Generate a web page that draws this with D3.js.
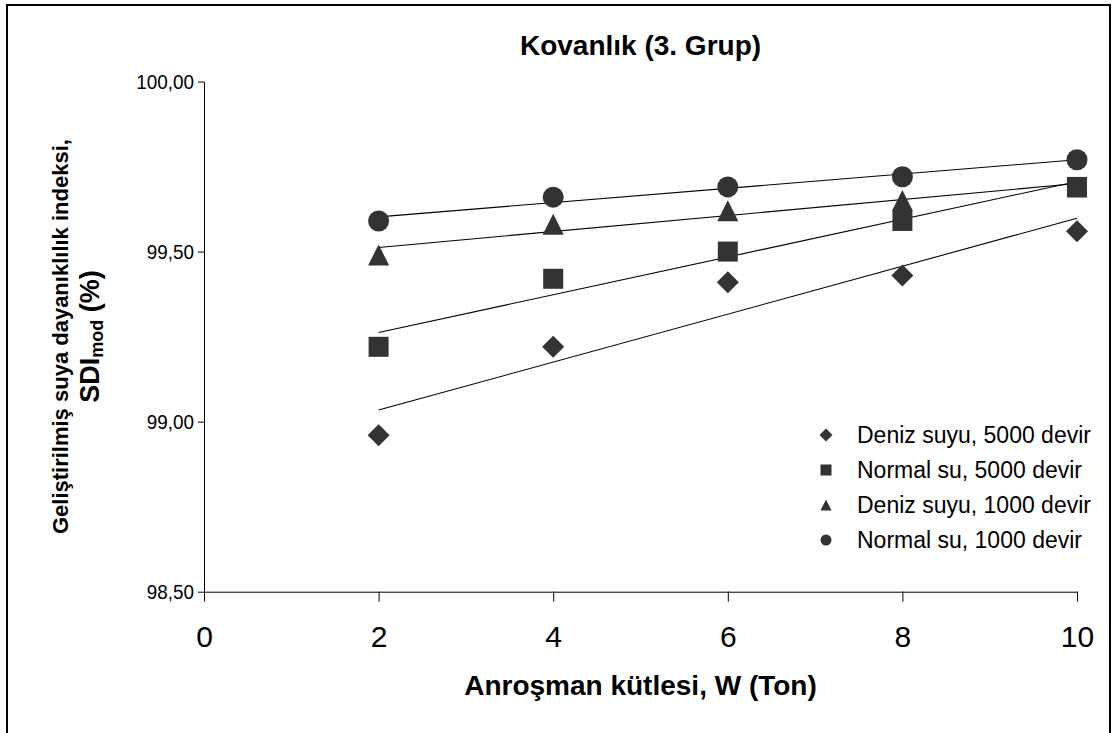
<!DOCTYPE html>
<html>
<head>
<meta charset="utf-8">
<script src="https://cdn.jsdelivr.net/npm/d3@7"></script>
<style>
  html, body { margin: 0; padding: 0; background: #fff; }
  svg { display: block; font-family: "Liberation Sans", Arial, sans-serif; }
</style>
</head>
<body>
<svg id="chart" width="1117" height="733"></svg>
<script>
// Anroşman kütlesi (ton)
const masses = [2, 4, 6, 8, 10];

// SDI_mod (%) for each test condition
const denizSuyu5000 = [98.96, 99.22, 99.41, 99.43, 99.56];
const normalSu5000  = [99.22, 99.42, 99.50, 99.59, 99.69];
const denizSuyu1000 = [99.49, 99.58, 99.62, 99.65, 99.69];
const normalSu1000  = [99.59, 99.66, 99.69, 99.72, 99.77];

const seriesNames = [
  "Deniz suyu, 5000 devir",
  "Normal su, 5000 devir",
  "Deniz suyu, 1000 devir",
  "Normal su, 1000 devir"
];
const seriesShapes = ["diamond", "square", "triangle", "circle"];

const xTicks = [0, 2, 4, 6, 8, 10];
const yTicks = [98.5, 99.0, 99.5, 100.0];

const series = [denizSuyu5000, normalSu5000, denizSuyu1000, normalSu1000].map((vals, i) => ({
  name: seriesNames[i],
  shape: seriesShapes[i],
  points: masses.map((m, j) => ({ x: m, y: vals[j] }))
}));

const svg = d3.select("#chart");
const markColor = "#333333";
const font = "Liberation Sans, Arial, sans-serif";

// outer frame
svg.append("rect")
  .attr("x", 7).attr("y", 5)
  .attr("width", 1103).attr("height", 760)
  .attr("fill", "none").attr("stroke", "#000").attr("stroke-width", 2);

const plot = { left: 204, right: 1077, top: 81.5, bottom: 591.7 };

const x = d3.scaleLinear().domain([0, 10]).range([plot.left, plot.right]);
const y = d3.scaleLinear().domain([98.5, 100]).range([plot.bottom, plot.top]);

const trLocale = d3.formatLocale({ decimal: ",", thousands: ".", grouping: [3], currency: ["", " TL"] });
const fmtY = trLocale.format(".2f");

// y axis
const yAxis = svg.append("g")
  .attr("transform", `translate(${plot.left},0)`)
  .call(d3.axisLeft(y).tickValues(yTicks).tickFormat(fmtY).tickSizeInner(6).tickSizeOuter(0).tickPadding(4));
yAxis.selectAll("text")
  .attr("font-size", 21).attr("fill", "#000").attr("font-family", font)
  .attr("x", 0).attr("transform", "translate(-10,0) scale(0.9,1)");
yAxis.selectAll("line, path").attr("stroke", "#000");

// x axis
const xAxis = svg.append("g")
  .attr("transform", `translate(0,${plot.bottom})`)
  .call(d3.axisBottom(x).tickValues(xTicks).tickFormat(d3.format("d")).tickSizeInner(10).tickSizeOuter(0).tickPadding(0));
xAxis.selectAll("text")
  .attr("font-size", 30).attr("fill", "#000").attr("font-family", font)
  .attr("dy", null).attr("y", 55);
xAxis.selectAll("line, path").attr("stroke", "#000");

// linear trend lines (least squares) over the measured range
function fitLine(pts) {
  const mx = d3.mean(pts, p => p.x), my = d3.mean(pts, p => p.y);
  const sxy = d3.sum(pts, p => (p.x - mx) * (p.y - my));
  const sxx = d3.sum(pts, p => (p.x - mx) ** 2);
  const b = sxy / sxx, a = my - b * mx;
  return v => a + b * v;
}
const xMin = d3.min(masses), xMax = d3.max(masses);
series.forEach(s => {
  const f = fitLine(s.points);
  svg.append("line")
    .attr("x1", x(xMin)).attr("y1", y(f(xMin)))
    .attr("x2", x(xMax)).attr("y2", y(f(xMax)))
    .attr("stroke", "#000").attr("stroke-width", 1.1);
});

// marker shapes
function shapePath(shape, s) {
  const h = s / 2;
  switch (shape) {
    case "diamond": return `M0,${-h}L${h},0L0,${h}L${-h},0Z`;
    case "square": return `M${-h},${-h}H${h}V${h}H${-h}Z`;
    case "triangle": return `M0,${-h}L${h},${h}L${-h},${h}Z`;
    default: return d3.arc()({ innerRadius: 0, outerRadius: h, startAngle: 0, endAngle: 2 * Math.PI });
  }
}
const markerSize = { diamond: 22, square: 20, triangle: 21, circle: 21 };

series.forEach(s => {
  svg.append("g").selectAll("path")
    .data(s.points)
    .join("path")
    .attr("transform", d => `translate(${x(d.x)},${y(d.y)})`)
    .attr("d", shapePath(s.shape, markerSize[s.shape]))
    .attr("fill", markColor);
});

// legend
const legendRowY = [435, 470, 505, 540];
const legend = svg.append("g");
series.forEach((s, i) => {
  const g = legend.append("g").attr("transform", `translate(826,${legendRowY[i]})`);
  g.append("path").attr("d", shapePath(s.shape, s.shape === "diamond" ? 13 : 11)).attr("fill", markColor);
  g.append("text").attr("x", 31).attr("y", 0).attr("dy", "0.35em")
    .attr("font-size", 23).attr("fill", "#000").text(s.name);
});

// title
svg.append("text")
  .attr("x", (plot.left + plot.right) / 2).attr("y", 55)
  .attr("text-anchor", "middle").attr("font-weight", "bold").attr("font-size", 28)
  .text("Kovanlık (3. Grup)");

// x axis title
svg.append("text")
  .attr("x", (plot.left + plot.right) / 2).attr("y", 695)
  .attr("text-anchor", "middle").attr("font-weight", "bold").attr("font-size", 28)
  .text("Anroşman kütlesi, W (Ton)");

// y axis title (two lines, rotated)
const yMid = (plot.top + plot.bottom) / 2;
const yt = svg.append("g").attr("transform", `translate(0,${yMid}) rotate(-90)`);
yt.append("text")
  .attr("x", 0).attr("y", 68)
  .attr("text-anchor", "middle").attr("font-weight", "bold").attr("font-size", 22)
  .text("Geliştirilmiş suya dayanıklılık indeksi,");
const l2 = yt.append("text")
  .attr("x", 0).attr("y", 99)
  .attr("text-anchor", "middle").attr("font-weight", "bold").attr("font-size", 27);
l2.append("tspan").text("SDI");
l2.append("tspan").attr("font-size", 18).attr("dy", 4).text("mod");
l2.append("tspan").attr("dy", -4).text(" (%)");
</script>
</body>
</html>
